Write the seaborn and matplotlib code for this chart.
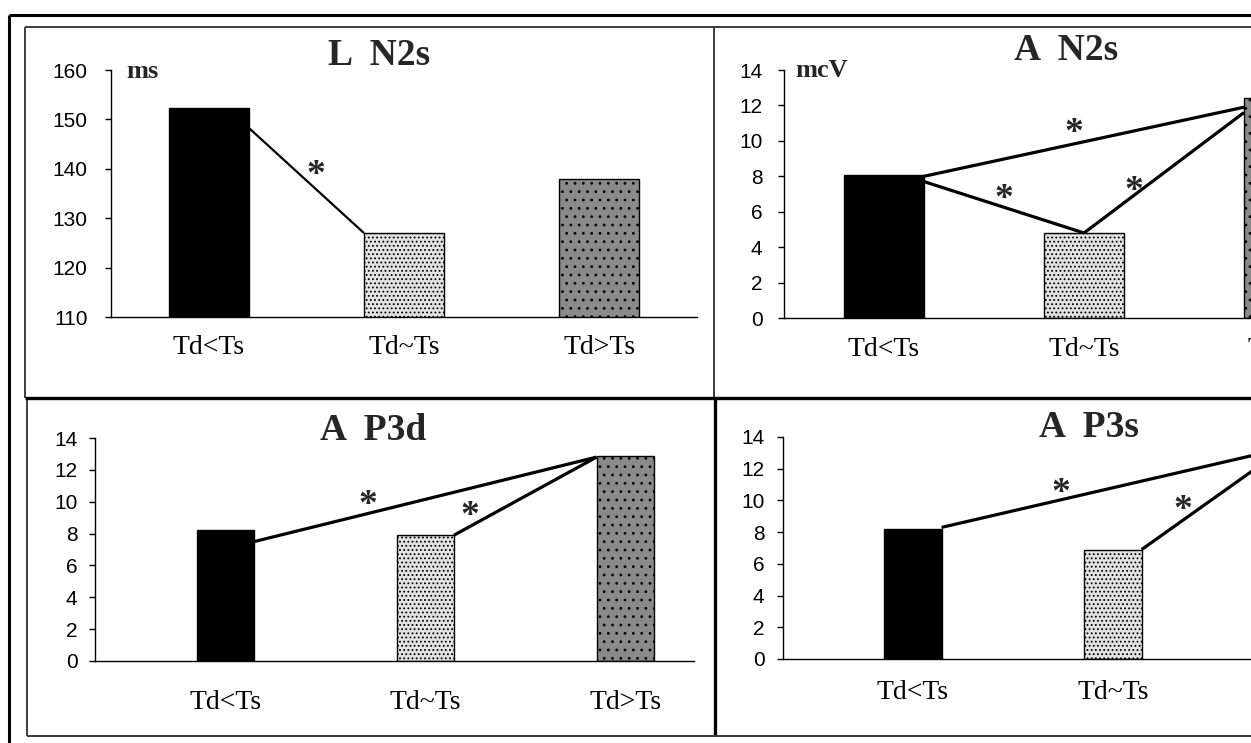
import matplotlib
matplotlib.use("Agg")
import matplotlib.pyplot as plt
import matplotlib.transforms as mtrans
from matplotlib.lines import Line2D
import seaborn as sns
import pandas as pd

# ---------------- data ----------------
categories = ["Td<Ts", "Td~Ts", "Td>Ts"]

l_n2s = [152.3, 127.0, 137.9]     # latency N2s, ms
a_n2s = [8.1, 4.8, 12.4]          # amplitude N2s, mcV
a_p3d = [8.2, 7.9, 12.9]          # amplitude P3d
a_p3s = [8.2, 6.9, 13.3]          # amplitude P3s

# significance links: ((category, anchor, value), (category, anchor, value))
l_n2s_links = [((0, "r", 148.3), (1, "l", 127.0))]
a_n2s_links = [((0, "r", 8.0), (2, "l", 11.9)),
               ((0, "r", 7.7), (1, "c", 4.8)),
               ((1, "c", 4.8), (2, "l", 11.6))]
a_p3d_links = [((0, "r", 7.5), (2, "l", 12.8)),
               ((1, "r", 7.9), (2, "l", 12.8))]
a_p3s_links = [((0, "r", 8.3), (2, "l", 13.3)),
               ((1, "r", 6.9), (2, "l", 13.3))]

# star positions (category units, value)
l_n2s_stars = [(0.55, 140.4)]
a_n2s_stars = [(0.95, 10.9), (0.60, 7.2), (1.25, 7.6)]
a_p3d_stars = [(0.71, 10.3), (1.22, 9.6)]
a_p3s_stars = [(0.74, 11.0), (1.35, 9.9)]

bar_colors = ["#000000", "#e2e2e2", "#8a8a8a"]
bar_hatches = ["", "....", ".."]

# ---------------- figure ----------------
sns.set_theme(style="white")
plt.rcParams["font.family"] = ["Liberation Sans", "DejaVu Sans"]
plt.rcParams["hatch.linewidth"] = 0.8

W, H = 1251, 743
fig = plt.figure(figsize=(W / 100, H / 100), dpi=100)
fig.patch.set_facecolor("white")


def rect(l, t, r, b):
    return [l / W, 1 - b / H, (r - l) / W, (b - t) / H]


def fx(x):
    return x / W


def fy(y):
    return 1 - y / H


def panel(box, values, ylim, yticks, xoff, width, links, stars,
          lw, xpad, ypad, line_w):
    ax = fig.add_axes(rect(*box))
    df = pd.DataFrame({"cond": categories, "value": values})
    sns.barplot(data=df, x="cond", y="value", hue="cond", palette=bar_colors,
                width=width, edgecolor="black", linewidth=1.0, saturation=1,
                legend=False, ax=ax)
    for p, h in zip(ax.patches, bar_hatches):
        if h:
            p.set_hatch(h)
    ax.set_xlim(-xoff, 3 - xoff)
    ax.set_ylim(*ylim)
    ax.set_yticks(yticks)
    ax.set_yticklabels([str(v) for v in yticks], fontsize=15,
                       family=["Liberation Sans", "DejaVu Sans"])
    ax.set_xticks(range(3))
    ax.set_xticklabels(categories, fontsize=20,
                       family=["Liberation Serif", "DejaVu Serif"])
    ax.set_xticks([-xoff + i for i in range(4)], minor=True)
    ax.tick_params(axis="x", which="major", length=0, pad=xpad, colors="black")
    ax.tick_params(axis="x", which="minor", length=5, width=1.0,
                   direction="out", colors="black")
    ax.tick_params(axis="y", which="major", length=4, width=1.0,
                   direction="out", pad=ypad, colors="black", left=True)
    ax.set_xlabel("")
    ax.set_ylabel("")
    for s in ["top", "right"]:
        ax.spines[s].set_visible(False)
    for s in ["left", "bottom"]:
        ax.spines[s].set_visible(True)
        ax.spines[s].set_color("black")
        ax.spines[s].set_linewidth(line_w)
    ax.set_facecolor("none")
    ax.grid(False)

    half = width / 2
    off = {"l": -half, "r": half, "c": 0.0}
    for (c0, a0, v0), (c1, a1, v1) in links:
        ax.plot([c0 + off[a0], c1 + off[a1]], [v0, v1], color="black",
                lw=lw, solid_capstyle="butt", zorder=5)
    trans = mtrans.offset_copy(ax.transData, fig=fig, y=-13, units="points")
    for sx, sy in stars:
        ax.text(sx, sy, "*", transform=trans, ha="center", va="baseline",
                fontsize=27, fontweight="bold",
                family=["Liberation Serif", "DejaVu Serif"], zorder=6)
    return ax


panel((111, 70, 697, 317), l_n2s, (110, 160), [110, 120, 130, 140, 150, 160],
      0.5, 0.41, l_n2s_links, l_n2s_stars, 1.6, 13, 13, 1.0)
panel((784, 70, 1384, 318), a_n2s, (0, 14), list(range(0, 15, 2)),
      0.5, 0.40, a_n2s_links, a_n2s_stars, 2.3, 14, 11.5, 1.0)
panel((95, 438, 694, 661), a_p3d, (0, 14), list(range(0, 15, 2)),
      0.655, 0.286, a_p3d_links, a_p3d_stars, 2.3, 21, 8.6, 1.0)
panel((783, 437, 1383, 659), a_p3s, (0, 14), list(range(0, 15, 2)),
      0.65, 0.286, a_p3s_links, a_p3s_stars, 2.3, 15, 9.4, 1.0)

# titles and units
serif = ["Liberation Serif", "DejaVu Serif"]
for tx, ty, txt in [(379, 65, "L  N2s"), (1066, 60, "A  N2s"),
                    (373, 440, "A  P3d"), (1089, 437, "A  P3s")]:
    fig.text(fx(tx), fy(ty), txt, ha="center", va="baseline", fontsize=27,
             fontweight="bold", family=serif)
fig.text(fx(126), fy(78), "ms", ha="left", va="baseline", fontsize=19,
         fontweight="bold", family=serif)
fig.text(fx(795), fy(77), "mcV", ha="left", va="baseline", fontsize=19,
         fontweight="bold", family=serif)


# frames
def fline(x0, y0, x1, y1, lw, color):
    fig.add_artist(Line2D([fx(x0), fx(x1)], [fy(y0), fy(y1)], lw=lw,
                          color=color, solid_capstyle="butt"))


gray = "#3c3c3c"
fline(9, 15, 1251, 15, 2.2, "black")      # outer top
fline(9, 15, 9, 743, 2.2, "black")        # outer left
fline(25, 27, 1251, 27, 1.4, gray)        # panels top
fline(25, 27, 25, 398, 1.4, gray)         # top-left left edge
fline(27, 398, 27, 736, 1.4, gray)        # bottom-left left edge
fline(714, 27, 714, 398, 1.4, gray)       # top divider
fline(25, 398, 1251, 398, 2.4, "black")   # middle horizontal
fline(715, 398, 715, 736, 2.4, "black")   # bottom divider
fline(27, 736, 1251, 736, 1.4, gray)      # bottom edge

fig.savefig("out.png", dpi=100, facecolor="white")
